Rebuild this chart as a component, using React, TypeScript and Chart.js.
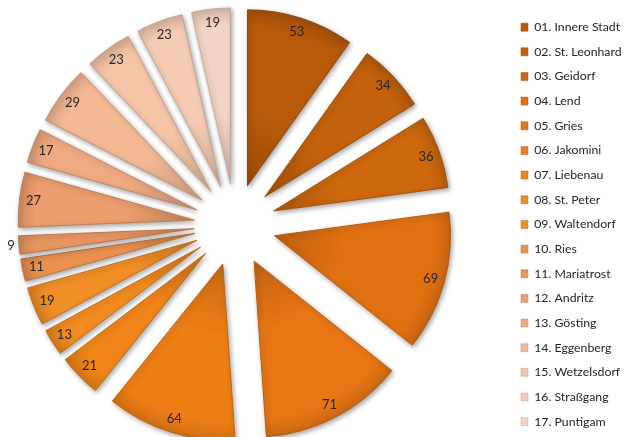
import React, { useEffect, useRef } from 'react';
import { Chart, registerables, ArcElement, PieController } from 'chart.js';

const districts = [
  '01. Innere Stadt', '02. St. Leonhard', '03. Geidorf', '04. Lend', '05. Gries',
  '06. Jakomini', '07. Liebenau', '08. St. Peter', '09. Waltendorf', '10. Ries',
  '11. Mariatrost', '12. Andritz', '13. Gösting', '14. Eggenberg', '15. Wetzelsdorf',
  '16. Straßgang', '17. Puntigam',
];
const values = [53, 34, 36, 69, 71, 64, 21, 13, 19, 11, 9, 27, 17, 29, 23, 23, 19];
const colors = [
  '#B85A0A', '#C4610C', '#CE680E', '#E27112', '#E87614', '#EE7E16', '#F08418',
  '#F28A1E', '#F28E26', '#EC9250', '#E89660', '#EC9E6E', '#F0AA82', '#F4B894',
  '#F6C4A6', '#F6CCB4', '#F4D4C4',
];

const EXPLODE = 41;
const RADIUS = 176;

function shade(hex: string, f: number): string {
  const n = parseInt(hex.slice(1), 16);
  let r = (n >> 16) & 255, g = (n >> 8) & 255, b = n & 255;
  const t = f < 0 ? 0 : 255;
  const p = Math.abs(f);
  r = Math.round((t - r) * p + r);
  g = Math.round((t - g) * p + g);
  b = Math.round((t - b) * p + b);
  return `rgb(${r},${g},${b})`;
}

class ExplodedArc extends ArcElement {
  static id = 'explodedArc';
  draw(ctx: CanvasRenderingContext2D) {
    const self: any = this;
    const mid = (self.startAngle + self.endAngle) / 2;
    ctx.save();
    ctx.translate(Math.cos(mid) * EXPLODE, Math.sin(mid) * EXPLODE);
    super.draw(ctx);
    ctx.restore();
  }
}

class ExplodedPieController extends PieController {
  static id = 'explodedPie';
  static defaults = { dataElementType: 'explodedArc' };
}

Chart.register(...registerables, ExplodedArc as any, ExplodedPieController as any);

const shadowPlugin = {
  id: 'sliceShadow',
  beforeDatasetsDraw(chart: any) {
    const c = chart.ctx;
    c.save();
    c.shadowColor = 'rgba(0,0,0,0.35)';
    c.shadowBlur = 5;
    c.shadowOffsetX = 1.5;
    c.shadowOffsetY = 2;
  },
  afterDatasetsDraw(chart: any) {
    chart.ctx.restore();
  },
};

const labelPlugin = {
  id: 'sliceLabels',
  afterDraw(chart: any) {
    const meta = chart.getDatasetMeta(0);
    const ctx = chart.ctx;
    ctx.save();
    ctx.font = '13px Lato';
    ctx.fillStyle = '#262626';
    ctx.textAlign = 'center';
    ctx.textBaseline = 'middle';
    meta.data.forEach((el: any, i: number) => {
      const p = el.getProps(['x', 'y', 'startAngle', 'endAngle', 'outerRadius'], true);
      const mid = (p.startAngle + p.endAngle) / 2;
      const span = p.endAngle - p.startAngle;
      const r = span < (7 * Math.PI) / 180 ? p.outerRadius + 8 : p.outerRadius * 0.92;
      const tx = p.x + Math.cos(mid) * (EXPLODE + r);
      const ty = p.y + Math.sin(mid) * (EXPLODE + r);
      ctx.fillText(String(values[i]), tx, ty);
    });
    ctx.restore();
  },
};

export default function App() {
  const ref = useRef<HTMLCanvasElement | null>(null);
  useEffect(() => {
    if (!ref.current) return;
    const chart = new Chart(ref.current, {
      type: 'explodedPie' as any,
      data: {
        labels: districts,
        datasets: [
          {
            data: values,
            backgroundColor: (c: any) => {
              const i = c.dataIndex;
              const a = c.chart.chartArea;
              if (i === undefined) return colors[0];
              if (!a) return colors[i];
              const cx = (a.left + a.right) / 2;
              const cy = (a.top + a.bottom) / 2;
              const g = c.chart.ctx.createRadialGradient(cx, cy, 0, cx, cy, RADIUS);
              g.addColorStop(0, shade(colors[i], -0.16));
              g.addColorStop(0.4, colors[i]);
              g.addColorStop(0.9, colors[i]);
              g.addColorStop(1, shade(colors[i], -0.12));
              return g;
            },
            borderColor: colors.map((c) => shade(c, -0.2)),
            borderWidth: 1,
          } as any,
        ],
      },
      options: {
        animation: false,
        responsive: true,
        maintainAspectRatio: false,
        radius: RADIUS,
        layout: { padding: { left: 0, right: 0, top: 9.5, bottom: 0 } },
        plugins: {
          tooltip: { enabled: false },
          legend: {
            position: 'right',
            align: 'end',
            maxWidth: 105,
            labels: {
              font: { family: 'Lato', size: 12.3, lineHeight: '22.66px' },
              boxWidth: 7,
              boxHeight: 8,
              padding: 2,
              color: '#262626',
              generateLabels: () =>
                districts.map((t, i) => ({
                  text: [t],
                  fillStyle: colors[i],
                  strokeStyle: shade(colors[i], -0.2),
                  lineWidth: 0.5,
                  hidden: false,
                  index: i,
                  fontColor: '#262626',
                })),
            },
          },
        },
      } as any,
      plugins: [shadowPlugin, labelPlugin],
    });
    return () => chart.destroy();
  }, []);
  return (
    <div style={{ position: 'fixed', left: 0, top: 0, width: 624, height: 437, overflow: 'hidden', background: '#fff' }}>
      <div style={{ position: 'absolute', left: -49, top: 0, width: 673, height: 440.2 }}>
        <canvas ref={ref} />
      </div>
    </div>
  );
}
